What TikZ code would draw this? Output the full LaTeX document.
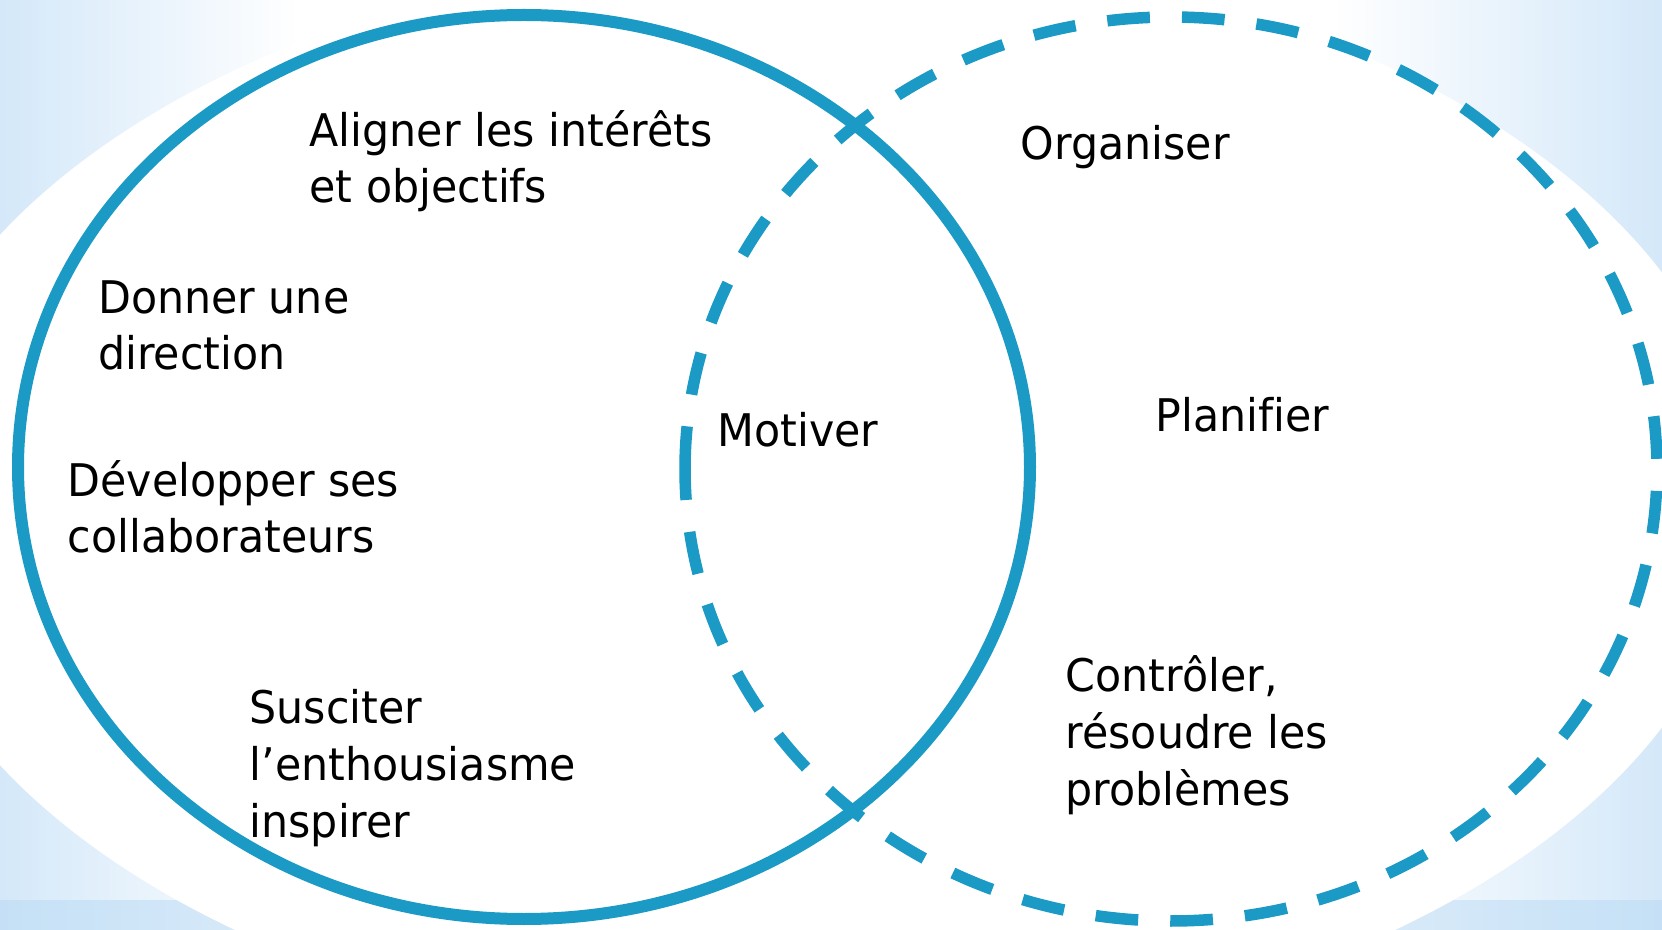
\documentclass[tikz,border=0pt]{standalone}
\usepackage{fontspec}
\setmainfont{DejaVu Sans}[FakeStretch=0.95,Ligatures=NoCommon]

\definecolor{ringblue}{RGB}{27,154,198}
\definecolor{skyblue}{RGB}{212,232,249}
\definecolor{barblue}{RGB}{197,224,246}

\begin{document}
\begin{tikzpicture}[
  lbl/.style={anchor=base west,align=left,inner sep=0pt,
    font=\fontsize{12.8pt}{16.2pt}\selectfont},
  ring/.style={ringblue,line width=0.12cm},
  dashring/.style={ringblue,line width=0.115cm,
    dash pattern=on 0.427cm off 0.321cm}]
\useasboundingbox (0,0) rectangle (16.62,9.29);

% background: pale blue sides, bar at the bottom, white oval
\fill[white] (0,0) rectangle (16.62,9.29);
\shade[left color=skyblue,right color=white] (0,0) rectangle (3,9.29);
\shade[left color=white,right color=skyblue] (13.3,0) rectangle (16.62,9.29);
\shade[left color=barblue,right color=barblue,middle color=white] (0,0) rectangle (16.62,0.29);
\fill[white] (8.15,4.29) ellipse (9.3 and 5.5);

% the two sets (dashed one runs clockwise from its left end)
\draw[dashring] (11.71,4.60) ++(180:4.86 and 4.52)
  arc[start angle=180,end angle=-180,x radius=4.86,y radius=4.52];
\draw[ring] (5.24,4.62) ellipse (5.06 and 4.52);

% leadership side
\node[lbl] (aligner) at (3.09,7.26) {Aligner les intérêts\\et objectifs};
\node[lbl] (direction) at (0.975,5.59) {Donner une\\direction};
\node[lbl] (developper) at (0.67,3.76) {Développer ses\\collaborateurs};
\node[lbl] (susciter) at (2.49,0.92) {Susciter\\l’enthousiasme\\inspirer};

% shared
\node[lbl] (motiver) at (7.17,4.82) {Motiver};

% management side
\node[lbl] (organiser) at (10.20,7.69) {Organiser};
\node[lbl] (planifier) at (11.55,4.97) {Planifier};
\node[lbl] (controler) at (10.65,1.24) {Contrôler,\\résoudre les\\problèmes};
\end{tikzpicture}
\end{document}
